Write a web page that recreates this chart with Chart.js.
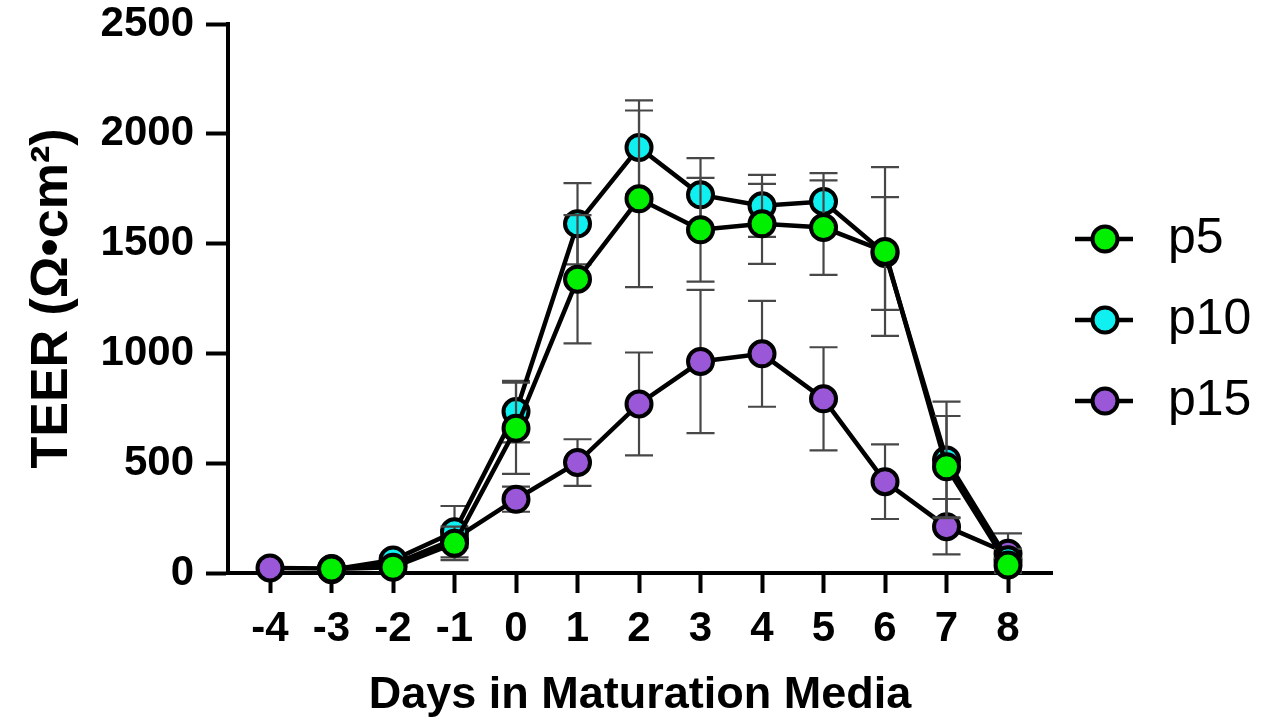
<!DOCTYPE html>
<html>
<head>
<meta charset="utf-8">
<script src="https://cdn.jsdelivr.net/npm/chart.js@4/dist/chart.umd.min.js"></script>
<style>
  html, body { margin: 0; padding: 0; background: #ffffff; }
  #wrap { width: 1268px; height: 724px; }
</style>
</head>
<body>
<div id="wrap"><canvas id="c" width="1268" height="724"></canvas></div>
<script>
// Days in maturation media (x values / tick labels)
const days = [-4, -3, -2, -1, 0, 1, 2, 3, 4, 5, 6, 7, 8];

// TEER means and error (± SD) per passage, Ω·cm²
const p5Mean  = [null, 18, 26, 135, 659, 1338, 1704, 1563, 1590, 1573, 1464, 484, 36];
const p5Err   = [null, 10, 15, 76, 208, 292, 402, 236, 182, 215, 384, 231, 30];
const p10Mean = [null, 15, 59, 188, 735, 1590, 1938, 1722, 1672, 1692, 1455, 515, 60];
const p10Err  = [null, 10, 20, 117, 140, 185, 214, 167, 141, 129, 257, 265, 50];
const p15Mean = [23, 20, 40, 155, 336, 503, 770, 963, 998, 793, 416, 211, 90];
const p15Err  = [10, 10, 15, 40, 57, 106, 234, 326, 241, 235, 170, 126, 90];

const yTicks = [0, 500, 1000, 1500, 2000, 2500];

const FONT = "'Liberation Sans', Arial, Helvetica, sans-serif";

function toPoints(means) {
  return days.map((d, i) => ({ x: d, y: means[i] }));
}

function series(label, means, errs, fill) {
  return {
    label: label,
    data: toPoints(means),
    errors: errs,
    borderColor: '#000000',
    borderWidth: 4.5,
    pointRadius: 12.5,
    pointHoverRadius: 12.5,
    pointBorderWidth: 4,
    pointBorderColor: '#000000',
    pointBackgroundColor: fill,
    backgroundColor: fill,
    tension: 0,
    clip: false
  };
}

// Error bars drawn just before each series, so a series' own markers sit on top
const errorBars = {
  id: 'errorBars',
  beforeDatasetDraw(chart, args) {
    const ds = chart.data.datasets[args.index];
    const errs = ds.errors;
    if (!errs) return;
    const ctx = chart.ctx;
    const xs = chart.scales.x, ys = chart.scales.y;
    const cap = 14;
    ctx.save();
    ctx.strokeStyle = '#474747';
    ctx.lineWidth = 2.2;
    ds.data.forEach((pt, i) => {
      if (pt.y == null || errs[i] == null) return;
      const px = xs.getPixelForValue(pt.x);
      const top = ys.getPixelForValue(pt.y + errs[i]);
      const bot = ys.getPixelForValue(Math.max(0, pt.y - errs[i]));
      ctx.beginPath();
      ctx.moveTo(px, top); ctx.lineTo(px, bot);
      ctx.moveTo(px - cap, top); ctx.lineTo(px + cap, top);
      ctx.moveTo(px - cap, bot); ctx.lineTo(px + cap, bot);
      ctx.stroke();
    });
    ctx.restore();
  }
};

// Legend on the right: line-through-marker swatch plus label
const sideLegend = {
  id: 'sideLegend',
  afterDraw(chart) {
    const ctx = chart.ctx;
    chart.data.datasets.forEach((ds, i) => {
      const cy = 239 + i * 81;
      ctx.save();
      ctx.strokeStyle = '#000000';
      ctx.lineWidth = 4.5;
      ctx.beginPath();
      ctx.moveTo(1075, cy); ctx.lineTo(1133, cy);
      ctx.stroke();
      ctx.beginPath();
      ctx.arc(1105, cy, 12.5, 0, Math.PI * 2);
      ctx.fillStyle = ds.pointBackgroundColor;
      ctx.fill();
      ctx.lineWidth = 4;
      ctx.stroke();
      ctx.fillStyle = '#000000';
      ctx.font = '50px ' + FONT;
      ctx.textBaseline = 'middle';
      ctx.textAlign = 'left';
      ctx.fillText(ds.label, 1168, cy);
      ctx.restore();
    });
  }
};

new Chart(document.getElementById('c'), {
  type: 'line',
  data: {
    datasets: [
      series('p5', p5Mean, p5Err, '#00f000'),
      series('p10', p10Mean, p10Err, '#10f0f0'),
      series('p15', p15Mean, p15Err, '#9a58d8')
    ]
  },
  options: {
    responsive: false,
    animation: false,
    devicePixelRatio: 1,
    layout: { padding: { left: 0, top: 24, right: 216, bottom: 0 } },
    plugins: {
      legend: { display: false },
      tooltip: { enabled: false }
    },
    scales: {
      x: {
        type: 'linear',
        position: 'bottom',
        min: -4.683,
        max: 8.715,
        afterBuildTicks: (axis) => { axis.ticks = days.map(v => ({ value: v })); },
        afterFit: (axis) => { axis.height = 151; },
        ticks: {
          autoSkip: false,
          maxRotation: 0,
          padding: 11,
          color: '#000000',
          font: { family: FONT, size: 42, weight: 'bold' },
          callback: (v) => String(v)
        },
        grid: {
          drawOnChartArea: false,
          drawTicks: true,
          tickLength: 20,
          tickWidth: 4,
          tickColor: '#000000'
        },
        border: { display: true, color: '#000000', width: 4 },
        title: {
          display: true,
          text: 'Days in Maturation Media',
          color: '#000000',
          font: { family: FONT, size: 45, weight: 'bold' },
          padding: { top: 0, bottom: 1 }
        }
      },
      y: {
        type: 'linear',
        position: 'left',
        min: 0,
        max: 2500,
        afterBuildTicks: (axis) => { axis.ticks = yTicks.map(v => ({ value: v })); },
        afterFit: (axis) => {
          axis.width = 228;
          axis.paddingTop = 0;
          axis.paddingBottom = 0;
        },
        ticks: {
          padding: 12,
          color: '#000000',
          font: { family: FONT, size: 42, weight: 'bold' },
          callback: (v) => String(v)
        },
        grid: {
          drawOnChartArea: false,
          drawTicks: true,
          tickLength: 22,
          tickWidth: 4,
          tickColor: '#000000'
        },
        border: { display: true, color: '#000000', width: 4 },
        title: {
          display: true,
          text: 'TEER (Ω•cm²)',
          color: '#000000',
          font: { family: FONT, size: 52, weight: 'bold' },
          padding: { top: 21, bottom: 0 }
        }
      }
    }
  },
  plugins: [errorBars, sideLegend]
});
</script>
</body>
</html>
